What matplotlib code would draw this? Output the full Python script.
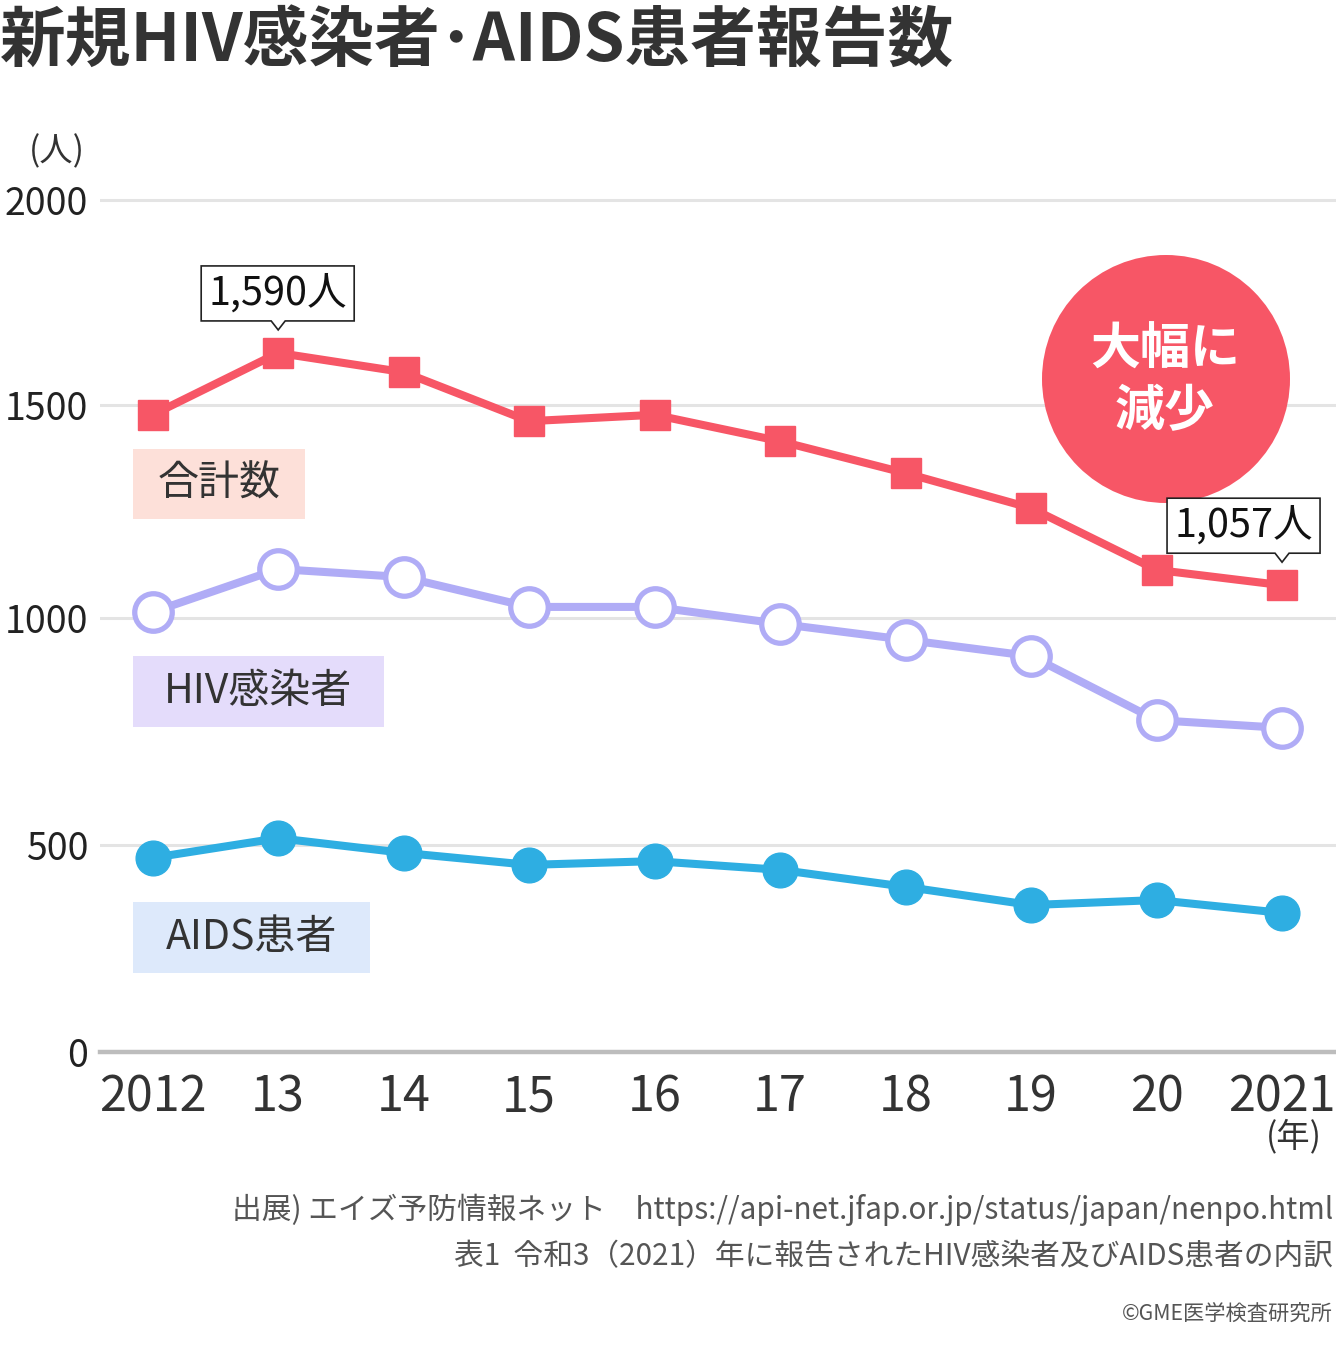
import matplotlib
matplotlib.use("Agg")
import numpy as np
import matplotlib.pyplot as plt
from matplotlib.patches import Rectangle, Ellipse, Polygon

plt.rcParams['font.family'] = ['Noto Sans CJK JP', 'DejaVu Sans']

# data
years = [2012, 2013, 2014, 2015, 2016, 2017, 2018, 2019, 2020, 2021]
year_labels = ['2012', '13', '14', '15', '16', '17', '18', '19', '20', '2021']
total = [1477, 1627, 1580, 1462, 1477, 1415, 1340, 1258, 1113, 1077]
hiv = [1014, 1115, 1096, 1026, 1026, 987, 952, 916, 775, 758]
aids = [469, 515, 481, 452, 461, 440, 399, 355, 367, 336]
y_ticks = [0, 500, 1000, 1500, 2000]

RED = '#f75666'
PURPLE = '#b0acf6'
BLUE = '#2eaee2'
TXT = '#333333'

# the reference's value axis is not evenly spaced: piecewise linear scale
scale_vals = [-100, 0, 500, 1000, 1500, 2000, 2100]
scale_pos = [-41, 0, 207, 434, 647, 852, 893]


def fwd(v):
    return np.interp(v, scale_vals, scale_pos)


def inv(p):
    return np.interp(p, scale_pos, scale_vals)


W, H = 1336, 1366
fig = plt.figure(figsize=(W / 100, H / 100), dpi=100)


def fx(x):
    return x / W


def fy(y):
    # y measured from the top, in pixels
    return 1 - y / H


# axes: y=0 at 1052px, y=2000 at 200px
y_top = 2060
ax_top_px = 1052 - fwd(y_top)
ax = fig.add_axes([fx(100), fy(1052), fx(W - 100), (1052 - ax_top_px) / H])
ax.set_yscale('function', functions=(fwd, inv))
ax.set_xlim(2011.58, 2021.43)
ax.set_ylim(0, y_top)

for s in ['top', 'right', 'left']:
    ax.spines[s].set_visible(False)
ax.spines['bottom'].set_color('#bdbdbd')
ax.spines['bottom'].set_linewidth(3.2)
ax.spines['bottom'].set_zorder(3)

ax.set_yticks(y_ticks)
ax.set_yticklabels([str(v) for v in y_ticks])
ax.yaxis.set_minor_locator(plt.NullLocator())
ax.yaxis.grid(True, color='#e4e4e4', linewidth=2.2)
ax.set_axisbelow(True)
ax.tick_params(axis='y', length=0, pad=8.5, labelsize=27, labelcolor='#222222')
ax.set_xticks(years)
ax.set_xticklabels(year_labels)
ax.tick_params(axis='x', length=0, pad=15, labelsize=35, labelcolor=TXT)

ax.plot(years, aids, color=BLUE, lw=5.8, marker='o', ms=25, mfc=BLUE, mec=BLUE,
        zorder=5, clip_on=False)
ax.plot(years, hiv, color=PURPLE, lw=5.8, marker='o', ms=27, mfc='white', mec=PURPLE,
        mew=3.8, zorder=5, clip_on=False)
ax.plot(years, total, color=RED, lw=5.8, marker='s', ms=21, mfc=RED, mec=RED,
        zorder=6, clip_on=False)

# unit labels
fig.text(fx(57), fy(152), '(人)', ha='center', va='center', fontsize=24, color=TXT)
fig.text(fx(1294), fy(1137), '(年)', ha='center', va='center', fontsize=24, color=TXT)

# title
fig.text(fx(0), fy(42), '新規HIV感染者･AIDS患者報告数', ha='left', va='center',
         fontsize=47.3, fontweight='bold', color=TXT)

# series name boxes
series_boxes = [
    ('合計数', '#fde0d9', 133, 449, 305, 519),
    ('HIV感染者', '#e4dcfb', 133, 656, 384, 727),
    ('AIDS患者', '#dde9fb', 133, 902, 370, 973),
]
for label, col, x0, y0, x1, y1 in series_boxes:
    fig.patches.append(Rectangle((fx(x0), fy(y1)), fx(x1 - x0), (y1 - y0) / H,
                                 transform=fig.transFigure, facecolor=col,
                                 edgecolor='none', zorder=1))
    fig.text(fx((x0 + x1) / 2), fy((y0 + y1) / 2), label, ha='center', va='center',
             fontsize=29.5, color=TXT, zorder=2)

# red badge
fig.patches.append(Ellipse((fx(1166), fy(379)), fx(248), 248 / H,
                           transform=fig.transFigure, facecolor=RED,
                           edgecolor='none', zorder=1))
fig.text(fx(1165), fy(350), '大幅に', ha='center', va='center', fontsize=36,
         fontweight='bold', color='white', zorder=2)
fig.text(fx(1165), fy(412), '減少', ha='center', va='center', fontsize=36,
         fontweight='bold', color='white', zorder=2)


# callouts with a small pointer under the box
def callout(xd, yd, text, left_off, bw=153, bh=55):
    px, py = ax.transData.transform((xd, yd))
    tip_y = py + 23
    b = tip_y + 9
    t = b + bh
    l = px - left_off
    r = l + bw
    verts = [(l, b), (px - 7, b), (px, tip_y), (px + 7, b), (r, b), (r, t), (l, t)]
    verts = [(x / W, y / H) for x, y in verts]
    fig.patches.append(Polygon(verts, closed=True, transform=fig.transFigure,
                               facecolor='white', edgecolor='#222222', lw=1.2, zorder=3))
    fig.text((l + r) / 2 / W, (b + t) / 2 / H, text, ha='center', va='center',
             fontsize=28.5, color='#111111', zorder=4)


callout(years[1], total[1], '1,590人', 77)
callout(years[-1], total[-1], '1,057人', 115)

# footer
fig.text(fx(1333), fy(1210),
         '出展) エイズ予防情報ネット　https://api-net.jfap.or.jp/status/japan/nenpo.html',
         ha='right', va='center', fontsize=21.4, color='#555555')
fig.text(fx(1333), fy(1257), '表1  令和3（2021）年に報告されたHIV感染者及びAIDS患者の内訳',
         ha='right', va='center', fontsize=21.4, color='#555555')
fig.text(fx(1333), fy(1315), '©GME医学検査研究所', ha='right', va='center',
         fontsize=15.3, color='#555555')

fig.savefig('out.png', dpi=100, facecolor='white')
